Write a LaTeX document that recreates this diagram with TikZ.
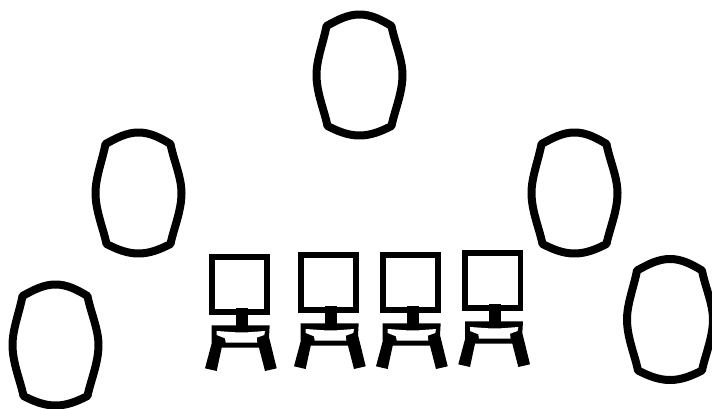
\documentclass[tikz,border=0pt]{standalone}
\tikzset{
  ovalring/.pic={
    \draw[line width=8pt,line join=round,black]
      (-33,-49) .. controls (-22,-55) and (-12,-60.5) .. (0,-60.5)
      .. controls (12,-60.5) and (22,-55) .. (32,-49)
      .. controls (35,-33) and (43,-16) .. (43,0)
      .. controls (43,18) and (35,36) .. (32,51)
      .. controls (22,56) and (12,60.5) .. (0,60.5)
      .. controls (-12,60.5) and (-22,56) .. (-32,51)
      .. controls (-35,36) and (-43,18) .. (-43,0)
      .. controls (-43,-16) and (-36,-33) .. (-33,-49) -- cycle;
  },
  chairset/.pic={
    \fill[black] (16.7,80.3) -- (74.7,80.3) -- (74,92) -- (81.7,123.3) -- (70,126) -- (64,102.7)
      -- (26.7,102.7) -- (21.7,126) -- (10,123.3) -- (16.7,98.3) -- cycle;
    \fill[white] (21.7,86) -- (40.7,87.3) -- (52.7,87.3) -- (70,86) -- (69.3,90) -- (61.7,92.7)
      -- (62.3,97.7) -- (30.7,97.7) -- (30,93.3) -- (21.7,90) -- cycle;
    \fill[black] (40.7,63.3) rectangle (52.7,87.3);
    \draw[line width=5.6pt,black,fill=white] (16.7,11.7) rectangle (72,66.7);
    \fill[black] (40.7,63.3) rectangle (52.7,69);
  }
}
\begin{document}
\begin{tikzpicture}[x=1pt,y=-1pt]
  \useasboundingbox (0,0) rectangle (712,409);
  \pic at (359.5,75) {ovalring};
  \pic at (138.5,193) {ovalring};
  \pic at (574.5,193) {ovalring};
  \pic at (55.5,345) {ovalring};
  \pic at (670,319.5) {ovalring};
  \pic at (195,245) {chairset};
  \pic at (284,243) {chairset};
  \pic at (366,243) {chairset};
  \pic at (448.3,241) {chairset};
\end{tikzpicture}
\end{document}
